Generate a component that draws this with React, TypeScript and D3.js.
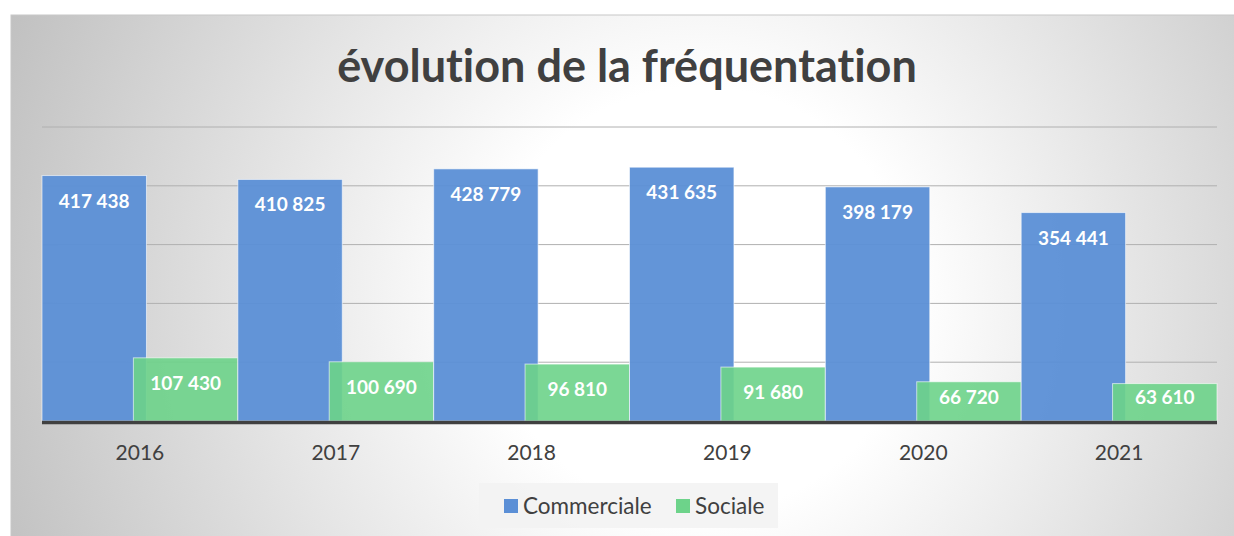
import React from "react";
import * as d3 from "d3";

const years = ["2016", "2017", "2018", "2019", "2020", "2021"];
const commerciale = [417438, 410825, 428779, 431635, 398179, 354441];
const sociale = [107430, 100690, 96810, 91680, 66720, 63610];
const yTicks = [0, 100000, 200000, 300000, 400000, 500000];
const seriesNames = ["Commerciale", "Sociale"];
const seriesColors = ["#5b8fd6", "#6dd38a"];

const W = 1234;
const H = 536;
const left = 42;
const right = 1217;
const top = 127;
const bottom = 421;

const fmt = (v: number) => d3.format(",")(v).replace(/,/g, " ");

export default function App() {
  const x = d3.scaleBand().domain(years).range([left, right]).padding(0);
  const y = d3.scaleLinear().domain([0, 500000]).range([bottom, top]);
  const bw = x.bandwidth() / 1.875;
  const offset = x.bandwidth() - bw;
  const font = "Lato, 'Open Sans', sans-serif";
  const noLig = { fontVariantLigatures: "none" as const };
  const labelY = (v: number) => Math.min(y(v) + 32, y(0) - 17);

  return (
    <svg width={W} height={H} style={{ position: "absolute", left: 0, top: 0 }}>
      <defs>
        <radialGradient id="bg" gradientUnits="userSpaceOnUse" cx={700} cy={300} r={760}>
          <stop offset="0" stopColor="#ffffff" />
          <stop offset="0.28" stopColor="#ffffff" />
          <stop offset="1" stopColor="#bfbfbf" />
        </radialGradient>
      </defs>
      <rect x={0} y={0} width={W} height={H} fill="#ffffff" />
      <rect x={11} y={15} width={W} height={H} fill="url(#bg)" stroke="#c8c8c8" strokeWidth={1} />
      <text
        x={627}
        y={82}
        textAnchor="middle"
        fontFamily={font}
        fontWeight="bold"
        fontSize={45}
        fill="#404040"
        style={noLig}
      >
        évolution de la fréquentation
      </text>
      {yTicks.slice(1).map((t) => (
        <line key={t} x1={left} x2={right} y1={y(t)} y2={y(t)} stroke="#b0b0b0" strokeWidth={1} />
      ))}
      {years.map((yr, i) => {
        const x0 = x(yr)!;
        const v1 = commerciale[i];
        const v2 = sociale[i];
        return (
          <g key={yr}>
            <rect
              x={x0}
              y={y(v1)}
              width={bw}
              height={y(0) - y(v1)}
              fill={seriesColors[0]}
              fillOpacity={0.95}
              stroke="rgba(255,255,255,0.6)"
              strokeWidth={1}
            />
            <rect
              x={x0 + offset}
              y={y(v2)}
              width={bw}
              height={y(0) - y(v2)}
              fill={seriesColors[1]}
              fillOpacity={0.9}
              stroke="rgba(255,255,255,0.6)"
              strokeWidth={1}
            />
            <text
              x={x0 + bw / 2}
              y={labelY(v1)}
              textAnchor="middle"
              fontFamily={font}
              fontWeight="bold"
              fontSize={19}
              fill="#ffffff"
            >
              {fmt(v1)}
            </text>
            <text
              x={x0 + offset + bw / 2}
              y={labelY(v2)}
              textAnchor="middle"
              fontFamily={font}
              fontWeight="bold"
              fontSize={19}
              fill="#ffffff"
            >
              {fmt(v2)}
            </text>
            <text
              x={x0 + x.bandwidth() / 2}
              y={460}
              textAnchor="middle"
              fontFamily={font}
              fontSize={21}
              fill="#404040"
            >
              {yr}
            </text>
          </g>
        );
      })}
      <line x1={left} x2={right} y1={y(0) + 1.5} y2={y(0) + 1.5} stroke="#404040" strokeWidth={3.5} />
      <g>
        <rect x={479} y={483} width={299} height={45} fill="#f2f2f2" fillOpacity={0.85} />
        <rect x={504} y={499} width={14} height={14} fill={seriesColors[0]} />
        <text x={523} y={514} fontFamily={font} fontSize={22.5} fill="#404040">
          {seriesNames[0]}
        </text>
        <rect x={676} y={499} width={14} height={14} fill={seriesColors[1]} />
        <text x={695} y={514} fontFamily={font} fontSize={22.5} fill="#404040">
          {seriesNames[1]}
        </text>
      </g>
    </svg>
  );
}
